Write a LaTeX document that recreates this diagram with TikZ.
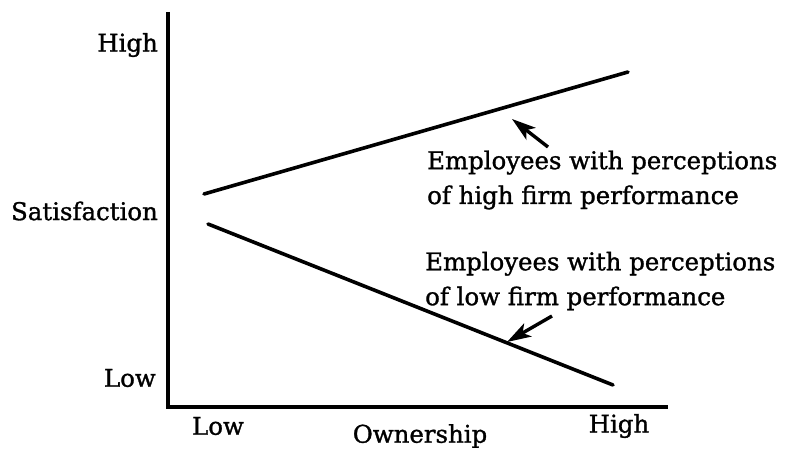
\documentclass[tikz,border=0pt]{standalone}
\usepackage{fontspec}
\setmainfont{DejaVu Serif}[BoldFont={DejaVu Serif},BoldFeatures={FakeBold=1.2}]
\usetikzlibrary{arrows.meta}
\begin{document}
\begin{tikzpicture}[x=1bp,y=-1bp,
  lbl/.style={inner sep=0pt,font=\fontsize{24.5}{35}\selectfont\bfseries},
  axis/.style={line width=3.4bp},
  trend/.style={line width=3.6bp,line cap=round},
  pointer/.style={line width=3.4bp,-{Stealth[length=24bp,width=15bp,inset=6bp]}}]
\useasboundingbox (0,0) rectangle (791,452);
% axes
\coordinate (ytop) at (168,12);
\coordinate (orig) at (168,407);
\coordinate (xend) at (668,407);
\draw[axis] (ytop) -- (orig) -- (xend);
% lines
\coordinate (h1) at (204,194);
\coordinate (h2) at (628,72);
\coordinate (l1) at (208,224);
\coordinate (l2) at (613,385);
\draw[trend] (h1) -- (h2);
\draw[trend] (l1) -- (l2);
% axis labels
\node[lbl,anchor=east] (yhigh) at (158,45) {High};
\node[lbl,anchor=east] (ysat) at (158,211) {Satisfaction};
\node[lbl,anchor=east] (ylow) at (156,378) {Low};
\node[lbl] (xlow) at (218,426) {Low};
\node[lbl] (xhigh) at (619,426) {High};
\node[lbl] (xown) at (420,436) {Ownership};
% annotations
\node[lbl,anchor=west,align=left] (thigh) at (427,180) {Employees with perceptions\\of high firm performance};
\node[lbl,anchor=west,align=left] (tlow) at (425,281) {Employees with perceptions\\of low firm performance};
\coordinate (ah1) at (548,147);
\coordinate (ah2) at (512,119);
\coordinate (al1) at (552,316);
\coordinate (al2) at (507,342);
\draw[pointer] (ah1) -- (ah2);
\draw[pointer] (al1) -- (al2);
\end{tikzpicture}
\end{document}
